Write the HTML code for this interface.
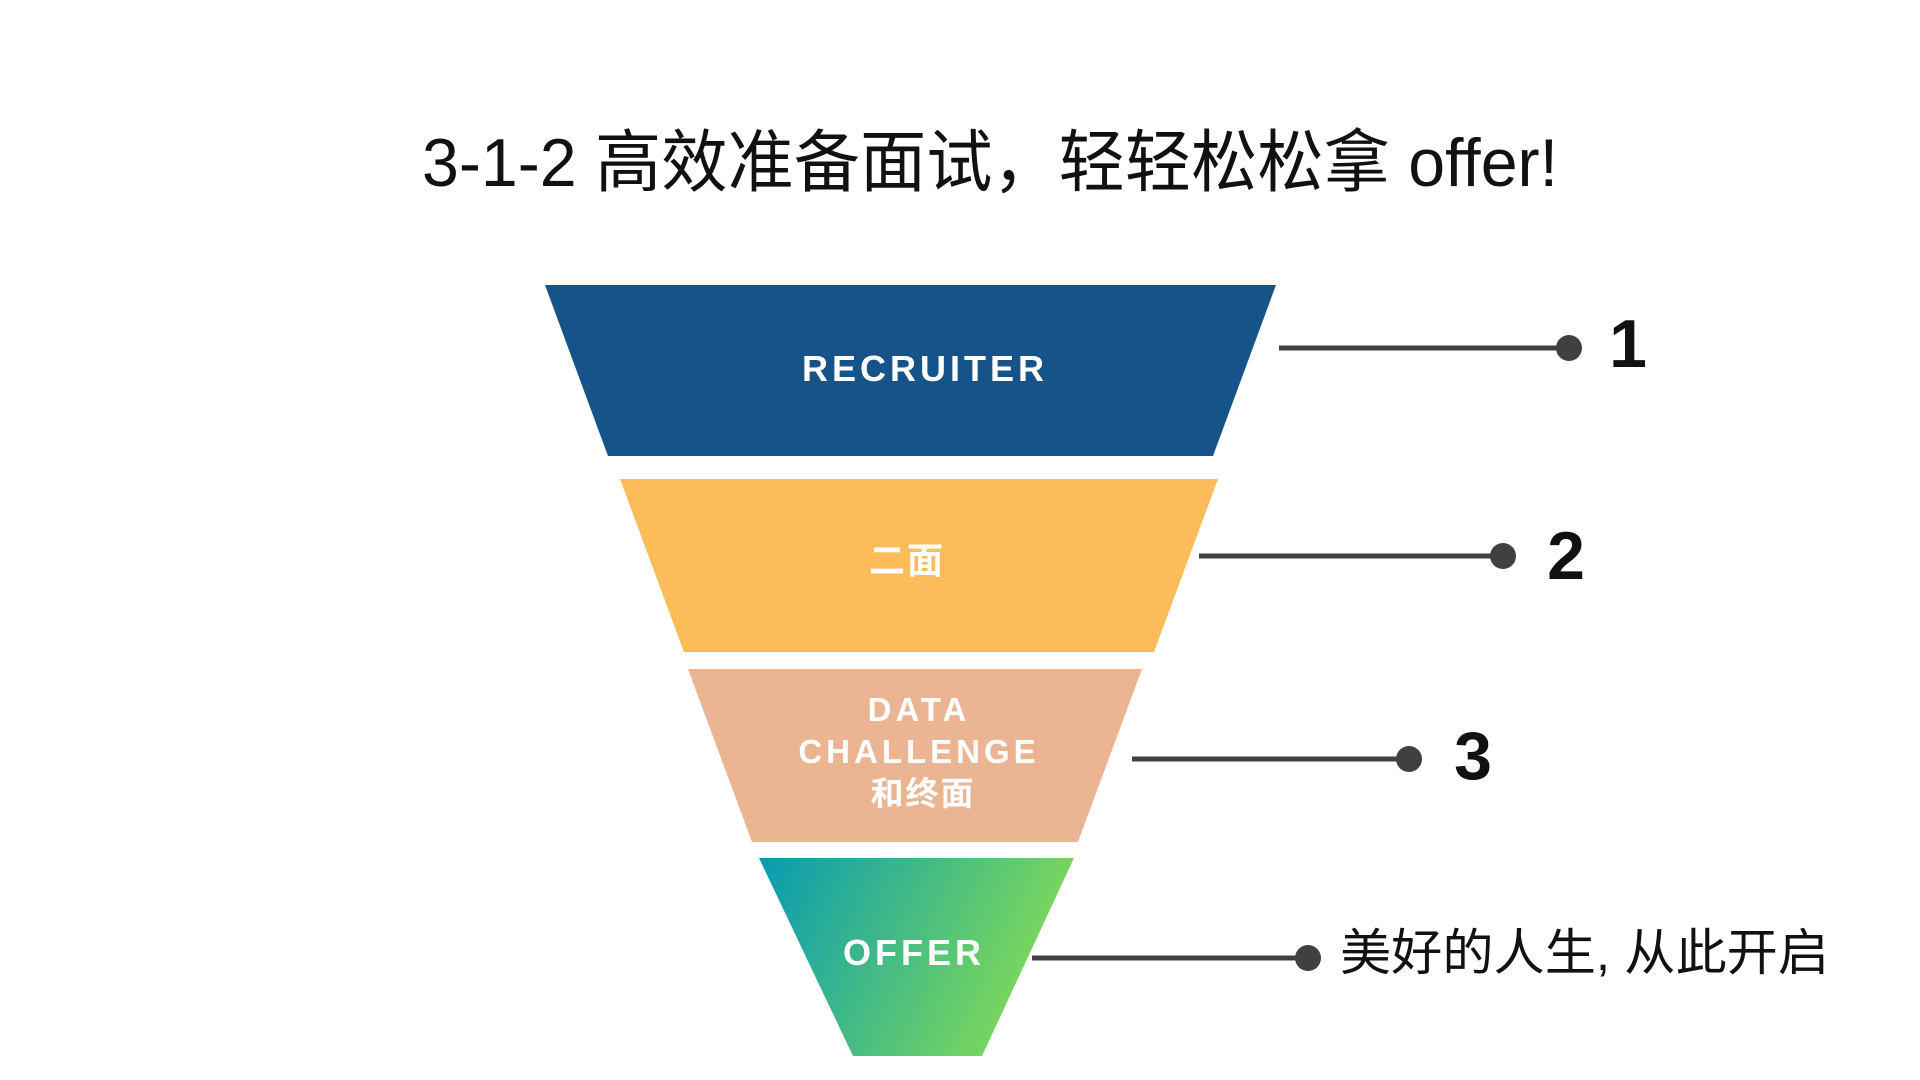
<!DOCTYPE html>
<html><head><meta charset="utf-8"><style>
html,body{margin:0;padding:0;background:#fff;width:1920px;height:1080px;overflow:hidden}
svg text{font-family:"Liberation Sans","Noto Sans CJK SC",sans-serif}
</style></head><body>
<svg width="1920" height="1080" viewBox="0 0 1920 1080" xmlns="http://www.w3.org/2000/svg">
<defs><linearGradient id="g" x1="0" y1="0" x2="1" y2="0.3"><stop offset="0" stop-color="#069bb2"/><stop offset="1" stop-color="#80da58"/></linearGradient></defs>
<text x="990" y="186" font-size="68" text-anchor="middle" fill="#111" textLength="1136" lengthAdjust="spacingAndGlyphs">3-1-2 高效准备面试，轻轻松松拿 offer!</text>
<g transform="translate(-5,-2)">
<polygon points="550,287 1281,287 1218,458 613,458" fill="#165388"/>
<polygon points="625,481 1223,481 1159,654 689,654" fill="#fdbc5a"/>
<polygon points="693,671 1147,671 1083,844 757,844" fill="#ebb594"/>
<polygon points="764,860 1079,860 987,1058 858,1058" fill="url(#g)"/>
<g fill="#fff" font-weight="bold" text-anchor="middle">
<text x="930" y="383" font-size="36" letter-spacing="4">RECRUITER</text>
<text x="912" y="575" font-size="36" letter-spacing="2">二面</text>
<text x="924" y="723" font-size="33" letter-spacing="4">DATA</text>
<text x="924" y="765" font-size="33" letter-spacing="4">CHALLENGE</text>
<text x="928" y="807" font-size="33" letter-spacing="2">和终面</text>
<text x="919" y="967" font-size="36" letter-spacing="4">OFFER</text>
</g>
<g stroke="#404040" stroke-width="5" fill="#404040">
<line x1="1284" y1="350" x2="1574" y2="350"/><circle cx="1574" cy="350" r="13" stroke="none"/>
<line x1="1204" y1="558" x2="1508" y2="558"/><circle cx="1508" cy="558" r="13" stroke="none"/>
<line x1="1137" y1="761" x2="1414" y2="761"/><circle cx="1414" cy="761" r="13" stroke="none"/>
<line x1="1037" y1="960" x2="1313" y2="960"/><circle cx="1313" cy="960" r="13" stroke="none"/>
</g>
<g fill="#111" font-weight="bold" font-size="68" text-anchor="middle">
<text x="1633" y="369">1</text>
<text x="1571" y="581">2</text>
<text x="1478" y="781">3</text>
</g>
<text x="1345" y="972" font-size="50" fill="#111" textLength="489" lengthAdjust="spacingAndGlyphs">美好的人生, 从此开启</text>
</g>
</svg>
</body></html>
